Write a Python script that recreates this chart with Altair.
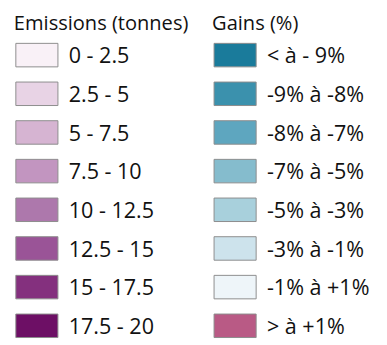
import altair as alt
import pandas as pd

emis_title = "Emissions (tonnes)"
gains_title = "Gains (%)"

emis_labels = ["0 - 2.5", "2.5 - 5", "5 - 7.5", "7.5 - 10", "10 - 12.5",
               "12.5 - 15", "15 - 17.5", "17.5 - 20"]
emis_colors = ["#f9f1f7", "#e8d3e5", "#d6b4d2", "#c295c0", "#ad78ac",
               "#9a5497", "#84307e", "#6d0f65"]

gains_labels = ["< à - 9%", "-9% à -8%", "-8% à -7%", "-7% à -5%",
                "-5% à -3%", "-3% à -1%", "-1% à +1%", "> à +1%"]
gains_colors = ["#1a7b9b", "#3b91ad", "#5ea6bf", "#85bccd",
                "#a8d0dc", "#cde3ec", "#eef5f9", "#b95a85"]

rows = []
for i, (l, c) in enumerate(zip(emis_labels, emis_colors)):
    rows.append({"col": 0, "row": i, "label": l, "color": c})
for i, (l, c) in enumerate(zip(gains_labels, gains_colors)):
    rows.append({"col": 1, "row": i, "label": l, "color": c})
df = pd.DataFrame(rows)

titles = pd.DataFrame({"col": [0, 1], "row": [-1, -1], "label": [emis_title, gains_title]})

FONT = "Segoe UI, Open Sans, Noto Sans, sans-serif"

xscale = alt.Scale(domain=[0, 1], range=[29.5, 232])
yscale = alt.Scale(domain=[0, 7], range=[44.5, 321])
xs = alt.X("col:Q", scale=xscale, axis=None)
ys = alt.Y("row:Q", scale=yscale, axis=None)

# custom rectangle symbol 43x24
rect_path = "M-1,-0.558L1,-0.558L1,0.558L-1,0.558Z"

swatches = alt.Chart(df).mark_point(
    shape=rect_path, size=43 * 43, filled=True, opacity=1,
    stroke="#8c8c8c", strokeWidth=1
).encode(x=xs, y=ys, fill=alt.Fill("color:N", scale=None))

labels = alt.Chart(df).mark_text(
    align="left", baseline="alphabetic", dx=32.5, dy=8.5,
    font=FONT, fontSize=22, color="#111111"
).encode(x=xs, y=ys, text="label:N")

title_text = alt.Chart(titles).mark_text(
    align="left", baseline="alphabetic", dx=-23.5, dy=13.5,
    font=FONT, fontSize=20.5, color="#111111"
).encode(x=xs, y=ys, text="label:N")

chart = alt.layer(swatches, labels, title_text).properties(
    width=379, height=337,
    autosize=alt.AutoSizeParams(type="none"),
    padding=0
).configure_view(stroke=None)

chart.save("out.html", embed_options={"renderer": "svg", "actions": False})
